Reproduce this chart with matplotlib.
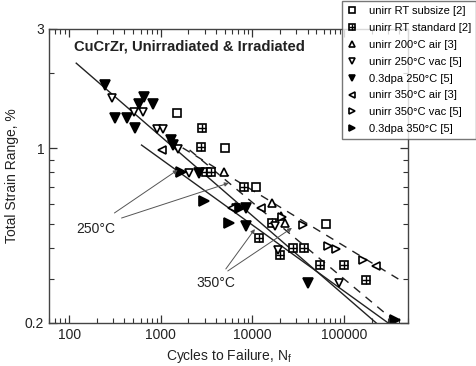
import matplotlib
matplotlib.use("Agg")
import matplotlib.pyplot as plt
from matplotlib.ticker import FixedLocator, NullFormatter, FixedFormatter
from matplotlib.legend_handler import HandlerTuple

plt.rcParams['font.family'] = ['Liberation Sans', 'DejaVu Sans']

# ---- data (cycles to failure, total strain range %) ----
rt_sub_N = [1490, 4990, 10900, 63700]
rt_sub_S = [1.38, 1.00, 0.70, 0.498]

rt_std_N = [2790, 2720, 3090, 3500, 8050, 16300, 11750, 19950, 27700, 36600, 54700, 100300, 174600]
rt_std_S = [1.205, 1.012, 0.804, 0.804, 0.70, 0.502, 0.438, 0.374, 0.399, 0.399, 0.341, 0.341, 0.297]

u200_N = [4870, 16300, 20460, 22650]
u200_S = [0.804, 0.604, 0.536, 0.502]

u250_N = [296, 515, 646, 897, 1044, 1525, 2010, 6580, 17600, 18970, 88300]
u250_S = [1.59, 1.40, 1.40, 1.194, 1.194, 0.993, 0.796, 0.577, 0.489, 0.392, 0.289]

i250_N = [248, 570, 662, 811, 319, 432, 528, 1277, 1343, 2589, 8470, 8470, 40450]
i250_S = [1.79, 1.50, 1.60, 1.50, 1.32, 1.32, 1.21, 1.08, 1.03, 0.796, 0.577, 0.489, 0.289]

u350a_N = [1018, 5940, 12360, 225000]
u350a_S = [0.984, 0.577, 0.577, 0.338]

u350v_N = [21000, 35600, 67000, 81800, 161800]
u350v_S = [0.531, 0.493, 0.406, 0.396, 0.357]

i350_N = [1644, 2939, 5510, 7280, 363000]
i350_S = [0.804, 0.615, 0.502, 0.577, 0.2056]

# fit lines (endpoints)
solid1_N = [119, 225000]
solid1_S = [2.19, 0.2]
solid2_N = [615, 304000]
solid2_S = [1.03, 0.2]
dash1_N = [1245, 392000]
dash1_S = [1.08, 0.30]
dash2_N = [2060, 345000]
dash2_S = [0.984, 0.2056]

labels = ["unirr RT subsize [2]", "unirr RT standard [2]", "unirr 200°C air [3]",
          "unirr 250°C vac [5]", "0.3dpa 250°C [5]", "unirr 350°C air [3]",
          "unirr 350°C vac [5]", "0.3dpa 350°C [5]"]

fig = plt.figure(figsize=(4.77, 3.66), dpi=100)
ax = fig.add_axes([49/477, 1-323/366, (408-49)/477, (323-29)/366])

ax.set_xscale('log')
ax.set_yscale('log')
ax.set_xlim(60, 500000)
ax.set_ylim(0.2, 3)

lc = '#222222'
ax.plot(solid1_N, solid1_S, '-', color=lc, lw=1.0)
ax.plot(solid2_N, solid2_S, '-', color=lc, lw=1.0)
ax.plot(dash1_N, dash1_S, '--', color=lc, lw=1.0, dashes=(6, 5))
ax.plot(dash2_N, dash2_S, '--', color=lc, lw=1.0, dashes=(6, 5))

ms = 6
mew = 1.2
k = 'black'
h1, = ax.plot(rt_sub_N, rt_sub_S, 's', ms=5.5, mfc='white', mec=k, mew=mew, ls='none')
h2a, = ax.plot(rt_std_N, rt_std_S, 's', ms=5.5, mfc='white', mec=k, mew=mew, ls='none')
h2b, = ax.plot(rt_std_N, rt_std_S, '+', ms=5.5, mec=k, mew=1.0, ls='none')
h3, = ax.plot(u200_N, u200_S, '^', ms=ms, mfc='white', mec=k, mew=mew, ls='none')
h4, = ax.plot(u250_N, u250_S, 'v', ms=ms, mfc='white', mec=k, mew=mew, ls='none')
h5, = ax.plot(i250_N, i250_S, 'v', ms=ms+0.5, mfc=k, mec=k, mew=mew, ls='none')
h6, = ax.plot(u350a_N, u350a_S, '<', ms=ms, mfc='white', mec=k, mew=mew, ls='none')
h7, = ax.plot(u350v_N, u350v_S, '>', ms=ms, mfc='white', mec=k, mew=mew, ls='none')
h8, = ax.plot(i350_N, i350_S, '>', ms=ms+0.5, mfc=k, mec=k, mew=mew, ls='none')

# annotations
ac = '#555555'
ap = dict(arrowstyle='-|>', color=ac, lw=0.7, mutation_scale=6, shrinkA=0, shrinkB=0)
ax.annotate("", xy=(1525, 0.819), xytext=(311, 0.551), arrowprops=ap)
ax.annotate("", xy=(5510, 0.726), xytext=(372, 0.526), arrowprops=ap)
ax.text(193, 0.475, "250°C", fontsize=10, ha='center', va='center', color='#222222')
ax.annotate("", xy=(10630, 0.475), xytext=(5120, 0.329), arrowprops=ap)
ax.annotate("", xy=(27000, 0.48), xytext=(5380, 0.323), arrowprops=ap)
ax.text(3970, 0.289, "350°C", fontsize=10, ha='center', va='center', color='#222222')

ax.text(0.07, 0.939, "CuCrZr, Unirradiated & Irradiated", transform=ax.transAxes,
        fontsize=10.6, fontweight='bold', ha='left', va='center', color='#222222')

# ticks
ax.yaxis.set_major_locator(FixedLocator([0.2, 1, 3]))
ax.yaxis.set_major_formatter(FixedFormatter(['0.2', '1', '3']))
ax.yaxis.set_minor_locator(FixedLocator([0.3, 0.4, 0.5, 0.6, 0.7, 0.8, 0.9, 2]))
ax.yaxis.set_minor_formatter(NullFormatter())
ax.xaxis.set_major_locator(FixedLocator([100, 1000, 10000, 100000]))
ax.xaxis.set_major_formatter(FixedFormatter(['100', '1000', '10000', '100000']))
minx = [m * 10**e for e in range(1, 6) for m in range(2, 10)]
minx = [v for v in minx if 60 <= v <= 500000]
ax.xaxis.set_minor_locator(FixedLocator(minx))
ax.xaxis.set_minor_formatter(NullFormatter())

ax.tick_params(which='both', direction='in', top=True, right=True, colors='#333333',
               labelcolor='#222222', labelsize=10)
ax.tick_params(which='major', length=6, width=0.9)
ax.tick_params(which='minor', length=3.5, width=0.8)
for s in ax.spines.values():
    s.set_color('#444444')
    s.set_linewidth(1.0)

ax.set_xlabel("Cycles to Failure, N$_\\mathregular{f}$", fontsize=10, color='#222222', labelpad=4)
ax.set_ylabel("Total Strain Range, %", fontsize=10, color='#222222', labelpad=4)

handles = [h1, (h2a, h2b), h3, h4, h5, h6, h7, h8]
leg = fig.legend(handles, labels, loc='upper right', bbox_to_anchor=(476/477, 1-1/366),
                 fontsize=8, frameon=True, fancybox=False, borderaxespad=0,
                 handler_map={tuple: HandlerTuple(ndivide=1, pad=0)},
                 handlelength=1.0, handletextpad=1.0, labelspacing=0.62, markerscale=0.75,
                 borderpad=0.45)
leg.get_frame().set_edgecolor('#555555')
leg.get_frame().set_linewidth(1.0)

fig.savefig("out.png", dpi=100)
